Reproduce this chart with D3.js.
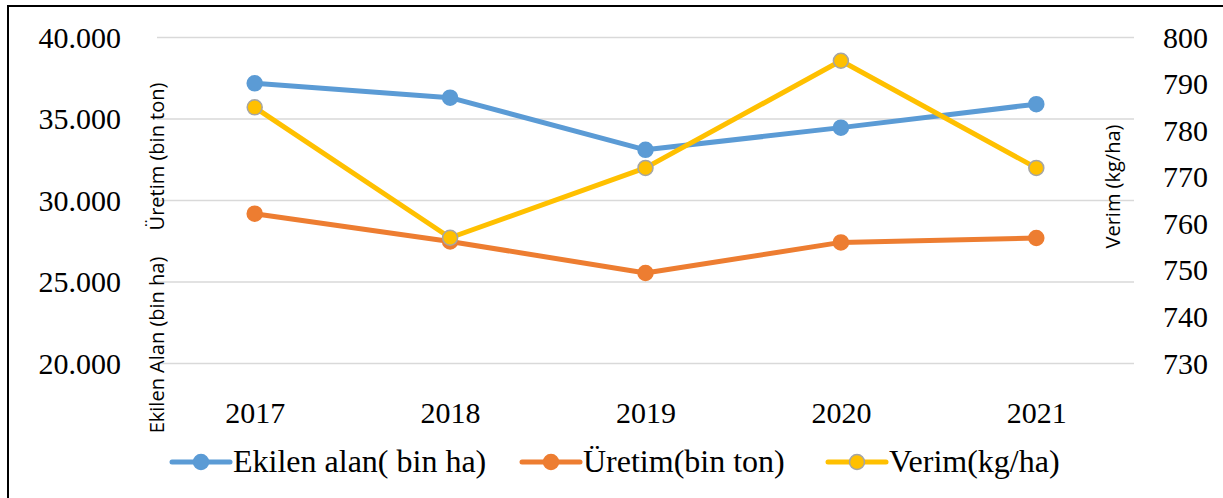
<!DOCTYPE html>
<html>
<head>
<meta charset="utf-8">
<script src="https://cdn.jsdelivr.net/npm/d3@7"></script>
<style>
  html, body { margin: 0; padding: 0; background: #fff; }
  svg { display: block; }
</style>
</head>
<body>
<svg id="chart" width="1223" height="498"></svg>
<script>
// ---- data ----
const years = ["2017", "2018", "2019", "2020", "2021"];
const ekilenAlan = [37190, 36310, 33110, 34470, 35910];   // bin ha (left axis)
const uretim = [29190, 27490, 25550, 27430, 27700];       // bin ton (left axis)
const verim = [785, 757, 772, 795, 772];                  // kg/ha (right axis)
const leftTicks = [20000, 25000, 30000, 35000, 40000];
const rightTicks = [730, 740, 750, 760, 770, 780, 790, 800];
const seriesNames = ["Ekilen alan( bin ha)", "Üretim(bin ton)", "Verim(kg/ha)"];
const leftTitleA = "Ekilen Alan (bin ha)";
const leftTitleB = "Üretim (bin ton)";
const rightTitle = "Verim (kg/ha)";

// ---- layout ----
const svg = d3.select("#chart");
const plot = { left: 157, right: 1134, top: 37.5, bottom: 363.5 };
const colors = { blue: "#5b9bd5", orange: "#ed7d31", yellow: "#ffc000", grey: "#a5a5a5" };
const serif = "'Liberation Serif', 'Times New Roman', serif";
const sans = "'Open Sans', 'Noto Sans', sans-serif";

const x = d3.scalePoint().domain(years).range([plot.left, plot.right]).padding(0.5);
const yL = d3.scaleLinear().domain([20000, 40000]).range([plot.bottom, plot.top]);
const yR = d3.scaleLinear().domain([730, 800]).range([plot.bottom, plot.top]);

const trLocale = d3.formatLocale({ decimal: ",", thousands: ".", grouping: [3], currency: ["", ""] });
const fmtL = trLocale.format(",.0f");

// frame
svg.append("rect").attr("x", 8).attr("y", 6).attr("width", 1240).attr("height", 520)
  .attr("fill", "none").attr("stroke", "#000").attr("stroke-width", 2);

// gridlines
svg.append("g").selectAll("line").data(leftTicks).join("line")
  .attr("x1", plot.left).attr("x2", plot.right)
  .attr("y1", d => yL(d)).attr("y2", d => yL(d))
  .attr("stroke", "#d9d9d9").attr("stroke-width", 1.5);

// left axis
const axL = svg.append("g").attr("transform", `translate(${plot.left},0)`)
  .call(d3.axisLeft(yL).tickValues(leftTicks).tickFormat(fmtL).tickSize(0).tickPadding(36));
axL.select(".domain").remove();
axL.selectAll("text").attr("font-family", serif).attr("font-size", 30).attr("fill", "#000");

// right axis
const axR = svg.append("g").attr("transform", `translate(${plot.right},0)`)
  .call(d3.axisRight(yR).tickValues(rightTicks).tickFormat(d3.format("d")).tickSize(0).tickPadding(29));
axR.select(".domain").remove();
axR.selectAll("text").attr("font-family", serif).attr("font-size", 30).attr("fill", "#000");

// x axis
const axX = svg.append("g").attr("transform", `translate(0,${plot.bottom})`)
  .call(d3.axisBottom(x).tickSize(0).tickPadding(38));
axX.select(".domain").remove();
axX.selectAll("text").attr("font-family", serif).attr("font-size", 30).attr("fill", "#000");

// axis titles
svg.append("text").attr("transform", "translate(164,345) rotate(-90)")
  .attr("text-anchor", "middle").attr("font-family", sans).attr("font-size", 20).text(leftTitleA);
svg.append("text").attr("transform", "translate(164,156.5) rotate(-90)")
  .attr("text-anchor", "middle").attr("font-family", sans).attr("font-size", 20).text(leftTitleB);
svg.append("text").attr("transform", "translate(1120,186.5) rotate(-90)")
  .attr("text-anchor", "middle").attr("font-family", sans).attr("font-size", 20).text(rightTitle);

// series
const series = [
  { name: seriesNames[0], values: ekilenAlan, y: yL, color: colors.blue, stroke: colors.blue },
  { name: seriesNames[1], values: uretim, y: yL, color: colors.orange, stroke: colors.orange },
  { name: seriesNames[2], values: verim, y: yR, color: colors.yellow, stroke: colors.grey }
];

series.forEach(s => {
  const pts = years.map((yr, i) => [x(yr), s.y(s.values[i])]);
  svg.append("path").datum(pts)
    .attr("d", d3.line())
    .attr("fill", "none").attr("stroke", s.color).attr("stroke-width", 5)
    .attr("stroke-linejoin", "round").attr("stroke-linecap", "round");
  svg.append("g").selectAll("circle").data(pts).join("circle")
    .attr("cx", d => d[0]).attr("cy", d => d[1]).attr("r", 7.5)
    .attr("fill", s.color).attr("stroke", s.stroke).attr("stroke-width", 1.5);
});

// legend
const legendX = [172, 522, 828];
const legendY = 462;
series.forEach((s, i) => {
  const g = svg.append("g").attr("transform", `translate(${legendX[i]},${legendY})`);
  g.append("line").attr("x1", 0).attr("x2", 58).attr("y1", 0).attr("y2", 0)
    .attr("stroke", s.color).attr("stroke-width", 5).attr("stroke-linecap", "round");
  g.append("circle").attr("cx", 29).attr("cy", 0).attr("r", 7.5)
    .attr("fill", s.color).attr("stroke", s.stroke).attr("stroke-width", 1.5);
  g.append("text").attr("x", 61).attr("y", 10)
    .attr("font-family", serif).attr("font-size", 32).attr("fill", "#000").text(s.name);
});
</script>
</body>
</html>
